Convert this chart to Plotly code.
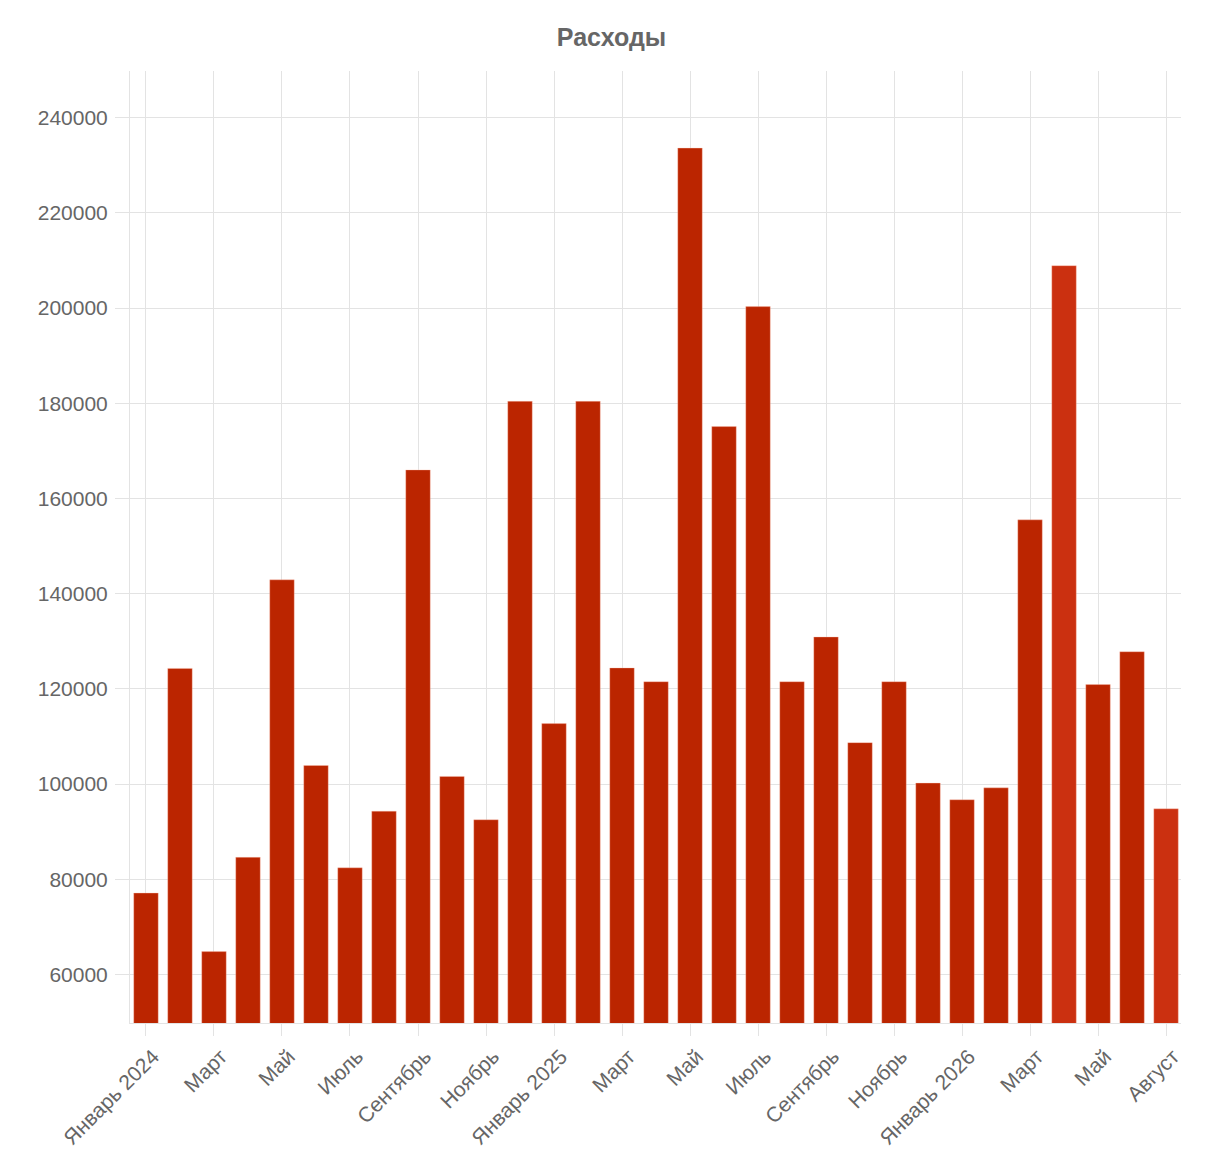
import plotly.graph_objects as go

# Data
months = list(range(31))  # Jan 2024 .. Jul 2026
values = [77100, 124300, 64800, 84600, 142900, 103900, 82400, 94300, 166000, 101600,
          92500, 180400, 112700, 180400, 124400, 121500, 233600, 175100, 200300, 121500,
          130900, 108700, 121500, 100200, 96700, 99200, 155500, 208900, 120900, 127800, 94800]
tick_positions = [0, 2, 4, 6, 8, 10, 12, 14, 16, 18, 20, 22, 24, 26, 28, 30]
tick_labels = ["Январь 2024", "Март", "Май", "Июль", "Сентябрь", "Ноябрь",
               "Январь 2025", "Март", "Май", "Июль", "Сентябрь", "Ноябрь",
               "Январь 2026", "Март", "Май", "Август"]
highlighted = {27, 30}

base_color = "#bb2500"
light_color = "#cb3010"
colors = [light_color if i in highlighted else base_color for i in months]

fig = go.Figure(go.Bar(
    x=months, y=values,
    marker=dict(color=colors, line=dict(color="rgba(255,200,180,0.6)", width=0.6)),
    width=0.72,
))

font_family = "Liberation Sans, Arial, sans-serif"
W, H = 1217, 1159
fig.update_layout(
    width=W, height=H,
    paper_bgcolor="white", plot_bgcolor="white",
    margin=dict(l=122, r=44, t=63, b=144),
    title=dict(text="<b>Расходы</b>", x=(611.5 - 8) / W, xanchor="center", y=1 - 29 / H, yanchor="middle",
               font=dict(family=font_family, size=25, color="#666666")),
    showlegend=False,
)
fig.update_xaxes(
    range=[-0.47, 30.44],
    tickmode="array", tickvals=tick_positions, ticktext=tick_labels,
    tickangle=-45,
    tickfont=dict(family=font_family, size=21, color="#666666"),
    ticklabelshift=7,
    showgrid=True, gridcolor="#e3e3e3", gridwidth=1,
    ticks="outside", ticklen=12, tickcolor="#e3e3e3",
    showline=True, linecolor="#e3e3e3", linewidth=1,
    zeroline=False,
)
fig.update_yaxes(
    range=[49800, 249800],
    tickmode="linear", tick0=60000, dtick=20000,
    tickformat="d",
    tickfont=dict(family=font_family, size=21, color="#666666"),
    ticklabelstandoff=3,
    showgrid=True, gridcolor="#e3e3e3", gridwidth=1,
    ticks="outside", ticklen=14, tickcolor="#e3e3e3",
    showline=True, linecolor="#e3e3e3", linewidth=1,
    zeroline=False,
)

fig.write_html("out.html")
